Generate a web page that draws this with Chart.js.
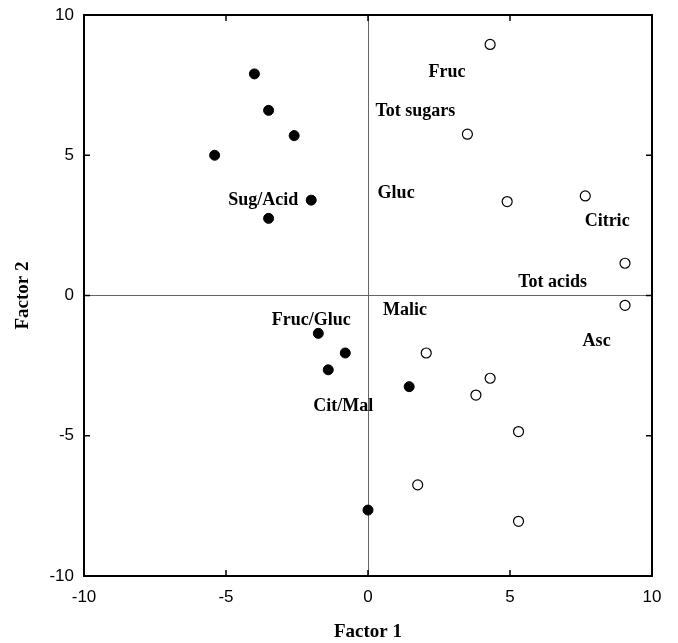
<!DOCTYPE html>
<html>
<head>
<meta charset="utf-8">
<script src="https://cdn.jsdelivr.net/npm/chart.js@4/dist/chart.umd.min.js"></script>
<style>
  html, body { margin: 0; padding: 0; background: #fff; }
  #wrap { width: 678px; height: 643px; }
</style>
</head>
<body>
<div id="wrap"><canvas id="c" width="678" height="643"></canvas></div>
<script>
// Factor scores: samples (filled) and variable loadings (open)
const sampleX = [-4.0, -3.5, -2.6, -5.4, -2.0, -3.5, -1.75, -1.4, -0.8, 1.45, 0.0];
const sampleY = [7.9, 6.6, 5.7, 5.0, 3.4, 2.75, -1.35, -2.65, -2.05, -3.25, -7.65];
const loadX = [4.3, 3.5, 4.9, 7.65, 9.05, 9.05, 2.05, 4.3, 3.8, 5.3, 1.75, 5.3];
const loadY = [8.95, 5.75, 3.35, 3.55, 1.15, -0.35, -2.05, -2.95, -3.55, -4.85, -6.75, -8.05];

// Variable names placed in factor space
const labelText = ['Fruc', 'Tot sugars', 'Gluc', 'Citric', 'Tot acids', 'Malic', 'Asc',
                   'Sug/Acid', 'Fruc/Gluc', 'Cit/Mal'];
const labelX = [2.78, 1.67, 0.99, 8.42, 6.5, 1.3, 8.05, -3.69, -2.0, -0.87];
const labelY = [7.94, 6.55, 3.64, 2.66, 0.46, -0.52, -1.62, 3.39, -0.9, -3.94];

const axisTicks = [-10, -5, 0, 5, 10];

const toPoints = (xs, ys) => xs.map((x, i) => ({ x: x, y: ys[i] }));

const frameAndTicks = {
  id: 'frameAndTicks',
  afterDatasetsDraw(chart) {
    const { ctx, chartArea: a, scales } = chart;
    ctx.save();
    ctx.strokeStyle = '#000';
    ctx.lineWidth = 1.5;
    const len = 6;
    axisTicks.forEach(v => {
      if (v === -10 || v === 10) return;
      const px = scales.x.getPixelForValue(v);
      const py = scales.y.getPixelForValue(v);
      ctx.beginPath();
      ctx.moveTo(px, a.bottom); ctx.lineTo(px, a.bottom - len);
      ctx.moveTo(px, a.top); ctx.lineTo(px, a.top + len);
      ctx.moveTo(a.left, py); ctx.lineTo(a.left + len, py);
      ctx.moveTo(a.right, py); ctx.lineTo(a.right - len, py);
      ctx.stroke();
    });
    ctx.lineWidth = 2;
    ctx.strokeRect(a.left, a.top, a.right - a.left, a.bottom - a.top);
    ctx.restore();
  }
};

const varLabels = {
  id: 'varLabels',
  afterDatasetsDraw(chart) {
    const { ctx, scales } = chart;
    ctx.save();
    ctx.fillStyle = '#000';
    ctx.font = 'bold 18px "Liberation Serif", "Times New Roman", serif';
    ctx.textAlign = 'center';
    ctx.textBaseline = 'middle';
    labelText.forEach((t, i) => {
      ctx.fillText(t, scales.x.getPixelForValue(labelX[i]), scales.y.getPixelForValue(labelY[i]));
    });
    ctx.restore();
  }
};

const zeroOnly = ctx => (ctx.tick && ctx.tick.value === 0) ? '#666' : 'rgba(0,0,0,0)';

new Chart(document.getElementById('c'), {
  type: 'scatter',
  data: {
    datasets: [
      {
        label: 'Samples',
        data: toPoints(sampleX, sampleY),
        pointRadius: 5,
        pointBackgroundColor: '#000',
        pointBorderColor: '#000',
        pointBorderWidth: 1
      },
      {
        label: 'Variables',
        data: toPoints(loadX, loadY),
        pointRadius: 5,
        pointBackgroundColor: '#fff',
        pointBorderColor: '#000',
        pointBorderWidth: 1.2
      }
    ]
  },
  options: {
    responsive: false,
    animation: false,
    layout: { padding: { left: 0, right: 26, top: 15, bottom: 0 } },
    plugins: { legend: { display: false }, tooltip: { enabled: false } },
    scales: {
      x: {
        type: 'linear',
        min: -10, max: 10,
        afterBuildTicks: s => { s.ticks = axisTicks.map(v => ({ value: v })); },
        afterFit: s => { s.height = 67; s.paddingLeft = 0; s.paddingRight = 0; },
        border: { display: false },
        grid: { color: zeroOnly, lineWidth: 1, drawTicks: false },
        ticks: {
          padding: 11,
          color: '#000',
          font: { family: '"Liberation Sans", Arial, sans-serif', size: 17 }
        },
        title: {
          display: true,
          text: 'Factor 1',
          color: '#000',
          padding: { top: 0, bottom: 0 },
          font: { family: '"Liberation Serif", "Times New Roman", serif', size: 19, weight: 'bold', lineHeight: 1.2 }
        }
      },
      y: {
        type: 'linear',
        min: -10, max: 10,
        afterBuildTicks: s => { s.ticks = axisTicks.map(v => ({ value: v })); },
        afterFit: s => { s.width = 84; s.paddingTop = 0; s.paddingBottom = 0; },
        border: { display: false },
        grid: { color: zeroOnly, lineWidth: 1, drawTicks: false },
        ticks: {
          padding: 10,
          color: '#000',
          font: { family: '"Liberation Sans", Arial, sans-serif', size: 17 }
        },
        title: {
          display: true,
          text: 'Factor 2',
          color: '#000',
          padding: { top: 12, bottom: 0 },
          font: { family: '"Liberation Serif", "Times New Roman", serif', size: 19, weight: 'bold', lineHeight: 1.2 }
        }
      }
    }
  },
  plugins: [frameAndTicks, varLabels]
});
</script>
</body>
</html>
